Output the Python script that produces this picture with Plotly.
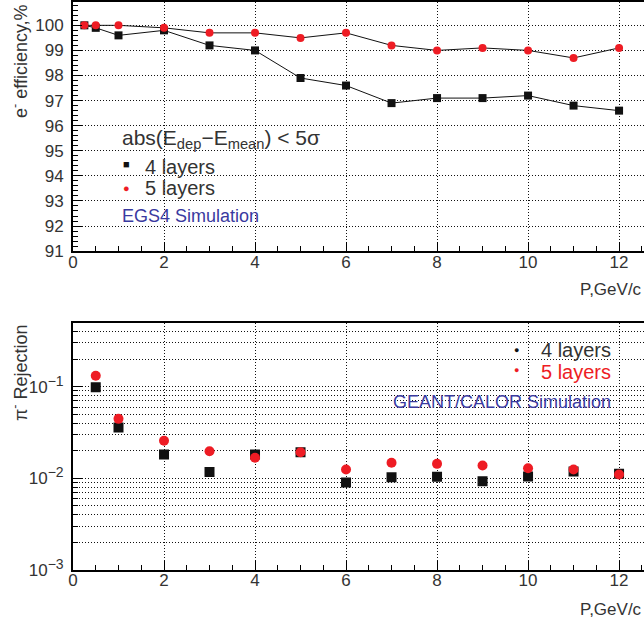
import plotly.graph_objects as go

# ---- data ----
p_eff = [0.25, 0.5, 1, 2, 3, 4, 5, 6, 7, 8, 9, 10, 11, 12]
eff_4 = [100.0, 99.9, 99.6, 99.8, 99.2, 99.0, 97.9, 97.6, 96.9, 97.1, 97.1, 97.2, 96.8, 96.6]
eff_5 = [100.0, 100.0, 100.0, 99.9, 99.7, 99.7, 99.5, 99.7, 99.2, 99.0, 99.1, 99.0, 98.7, 99.1]

p_rej = [0.5, 1, 2, 3, 4, 5, 6, 7, 8, 9, 10, 11, 12]
rej_4 = [0.099, 0.036, 0.0182, 0.0117, 0.0182, 0.0193, 0.0090, 0.0103, 0.0104, 0.0093, 0.0105, 0.0119, 0.0112]
rej_5 = [0.132, 0.0446, 0.0257, 0.0198, 0.0168, 0.0193, 0.0125, 0.0148, 0.0144, 0.0138, 0.0129, 0.0125, 0.0110]

log_tickvals = [0.001, 0.01, 0.1]
log_ticktext = ["10<sup><span style='font-size:14px'>−3</span></sup>",
                "10<sup><span style='font-size:14px'>−2</span></sup>",
                "10<sup><span style='font-size:14px'>−1</span></sup>"]
log_minor = [m * d for d in (0.001, 0.01, 0.1) for m in range(2, 10) if m * d < 0.5]

RED = "#ee1c24"
BLK = "#111111"
TXT = "#333333"
BLUE = "#3a3aa0"
FONT = "Liberation Sans"
DOT = "1px,2px"

fig = go.Figure()
fig.add_trace(go.Scatter(x=p_eff, y=eff_4, mode="lines+markers", xaxis="x", yaxis="y",
                         line=dict(color=BLK, width=1),
                         marker=dict(symbol="square", size=8, color=BLK), showlegend=False))
fig.add_trace(go.Scatter(x=p_eff, y=eff_5, mode="lines+markers", xaxis="x", yaxis="y",
                         line=dict(color=BLK, width=1),
                         marker=dict(symbol="circle", size=8, color=RED), showlegend=False))
fig.add_trace(go.Scatter(x=p_rej, y=rej_4, mode="markers", xaxis="x2", yaxis="y2",
                         marker=dict(symbol="square", size=10, color=BLK), showlegend=False))
fig.add_trace(go.Scatter(x=p_rej, y=rej_5, mode="markers", xaxis="x2", yaxis="y2",
                         marker=dict(symbol="circle", size=10, color=RED), showlegend=False))

grid = dict(showgrid=True, gridcolor="#111", griddash=DOT, gridwidth=1)
axcommon = dict(showline=True, linecolor="black", linewidth=2, mirror=True, zeroline=False,
                ticks="inside", tickcolor="black", tickfont=dict(family=FONT, size=17, color=TXT))

xax = dict(range=[0, 12.68], dtick=2, tick0=0, ticklen=9, ticklabelstandoff=-6,
           minor=dict(dtick=0.5, ticks="inside", ticklen=5, tickcolor="black", showgrid=False),
           **grid, **axcommon)

fig.update_layout(
    width=652, height=619,
    margin=dict(l=73, r=0, t=0, b=49),
    paper_bgcolor="white", plot_bgcolor="white",
    font=dict(family=FONT, color=TXT),
    xaxis=dict(domain=[0, 1], anchor="y", **xax),
    yaxis=dict(domain=[0.5614, 1], anchor="x", range=[91, 100.93], dtick=1, ticklen=9,
               ticklabelstandoff=4,
               minor=dict(dtick=0.2, ticks="inside", ticklen=5, tickcolor="black", showgrid=False),
               **grid, **axcommon),
    xaxis2=dict(domain=[0, 1], anchor="y2", **xax),
    yaxis2=dict(domain=[0, 0.4356], anchor="x2", type="log", range=[-3, -0.3],
                tickmode="array", tickvals=log_tickvals, ticktext=log_ticktext, ticklen=10,
                ticklabelstandoff=4,
                minor=dict(tickmode="array", tickvals=log_minor, ticks="inside", ticklen=5,
                           tickcolor="black", showgrid=True, gridcolor="#111", griddash=DOT),
                **grid, **axcommon),
)


def txt(text, x, y, xanchor="left", size=20, color=TXT, **kw):
    return dict(text=text, xref="paper", yref="paper", x=x, y=y, xanchor=xanchor,
                yanchor="middle", showarrow=False, font=dict(size=size, color=color), **kw)


ann = [
    # axis titles
    txt("e<sup>-</sup> efficiency,%", -0.0915, 0.8965, "center", 18, textangle=-90),
    txt("π<sup>-</sup> Rejection", -0.0915, 0.347, "center", 18, textangle=-90),
    txt("P,GeV/c", 0.9896, 0.4947, "right", 17),
    txt("P,GeV/c", 0.9896, -0.0702, "right", 17),
    # top legend
    txt("abs(E<sub>dep</sub>−E<sub>mean</sub>) &lt; 5σ", 0.0812, 0.7596, "left", 21),
    txt("■", 0.0933, 0.714, "center", 11, BLK),
    txt("4 layers", 0.1209, 0.710, "left", 20),
    txt("●", 0.0933, 0.672, "center", 11, RED),
    txt("5 layers", 0.1209, 0.672, "left", 20),
    txt("EGS4 Simulation", 0.0812, 0.6228, "left", 18, BLUE),
    # bottom legend
    txt("●", 0.7686, 0.388, "center", 9, BLK),
    txt("4 layers", 0.9361, 0.387, "right", 20),
    txt("●", 0.7686, 0.3526, "center", 9, RED),
    txt("5 layers", 0.9361, 0.3486, "right", 20, RED),
    txt("GEANT/CALOR Simulation", 0.9361, 0.2965, "right", 18, BLUE),
]
fig.update_layout(annotations=ann)

fig.write_html("out.html", config={"displayModeBar": False},
               post_script="document.body.style.margin='0';document.body.style.overflow='hidden';")
